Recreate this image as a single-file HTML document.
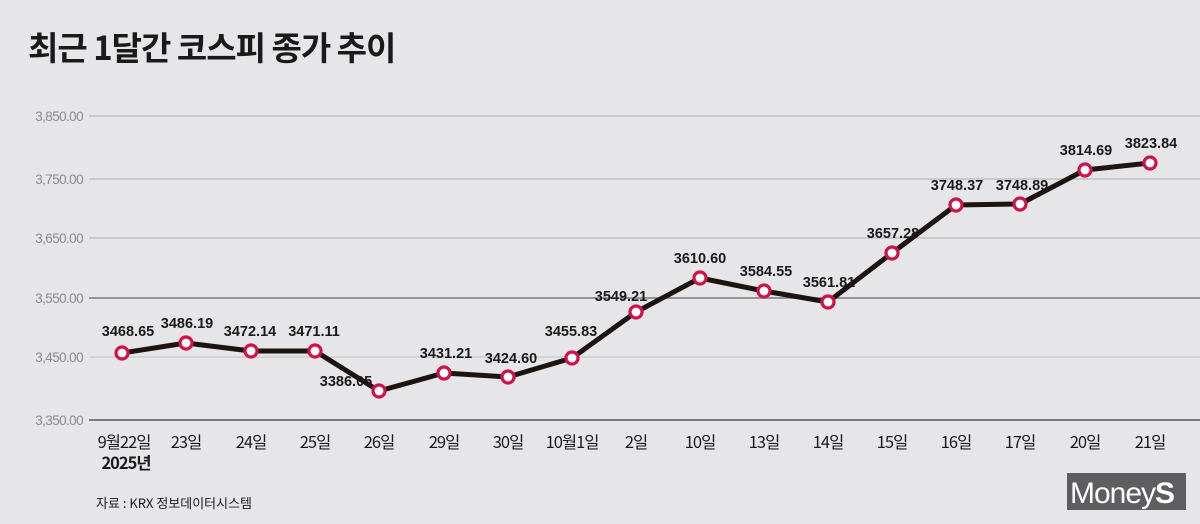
<!DOCTYPE html>
<html><head><meta charset="utf-8"><style>
body{margin:0;width:1200px;height:524px;background:#e6e6e8;overflow:hidden;font-family:"Liberation Sans","Noto Sans CJK KR",sans-serif;}
</style></head><body>
<svg width="1200" height="524" xmlns="http://www.w3.org/2000/svg" style="position:absolute;left:0;top:0">
<text x="28" y="60" font-size="33" font-weight="bold" fill="#1a1a1a" font-family="'Noto Sans CJK KR',sans-serif" letter-spacing="-1">최근 1달간 코스피 종가 추이</text>
<g stroke="#b9b9bb" stroke-width="1.3">
<line x1="89" y1="116" x2="1200" y2="116"/><line x1="89" y1="179" x2="1200" y2="179"/>
<line x1="89" y1="238" x2="1200" y2="238"/><line x1="89" y1="357" x2="1200" y2="357" stroke="#c8c8ca"/>
</g>
<line x1="89" y1="298" x2="1200" y2="298" stroke="#7a7a7c" stroke-width="1.5"/>
<line x1="89" y1="420" x2="1200" y2="420" stroke="#6a6a6c" stroke-width="1.8"/>
<g font-size="13.5" fill="#8a8a8c" text-anchor="end" letter-spacing="-0.6">
<text x="83" y="121">3,850.00</text><text x="83" y="184">3,750.00</text><text x="83" y="243">3,650.00</text>
<text x="83" y="303">3,550.00</text><text x="83" y="362">3,450.00</text><text x="83" y="425">3,350.00</text>
</g>
<polyline fill="none" stroke="#1d1412" stroke-width="5" stroke-linejoin="round" points="122,353 186,343 251,351 315,351 379,391 444,373 508,377 572,358 636,312 700,278 764,291 828,302 892,253 956,205 1020,204 1085,170 1150,163"/>
<g fill="#fff" stroke="#d0124a" stroke-width="3.2">
<circle cx="122" cy="353" r="6"/><circle cx="186" cy="343" r="6"/><circle cx="251" cy="351" r="6"/><circle cx="315" cy="351" r="6"/><circle cx="379" cy="391" r="6"/><circle cx="444" cy="373" r="6"/><circle cx="508" cy="377" r="6"/><circle cx="572" cy="358" r="6"/><circle cx="636" cy="312" r="6"/><circle cx="700" cy="278" r="6"/><circle cx="764" cy="291" r="6"/><circle cx="828" cy="302" r="6"/><circle cx="892" cy="253" r="6"/><circle cx="956" cy="205" r="6"/><circle cx="1020" cy="204" r="6"/><circle cx="1085" cy="170" r="6"/><circle cx="1150" cy="163" r="6"/>
</g>
<g font-size="14.5" font-weight="bold" fill="#1a1a1a" text-anchor="middle">
<text x="128" y="336">3468.65</text><text x="187" y="328">3486.19</text><text x="250" y="336">3472.14</text><text x="314" y="336">3471.11</text>
<text x="346" y="386">3386.05</text><text x="446" y="358">3431.21</text><text x="511" y="363">3424.60</text><text x="571" y="336">3455.83</text>
<text x="621" y="301">3549.21</text><text x="700" y="263">3610.60</text><text x="766" y="276">3584.55</text><text x="829" y="287">3561.81</text>
<text x="893" y="238">3657.28</text><text x="957" y="190">3748.37</text><text x="1022" y="190">3748.89</text><text x="1086" y="155">3814.69</text><text x="1151" y="148">3823.84</text>
</g>
<g font-size="16.5" fill="#1a1a1a" text-anchor="middle" letter-spacing="-1" font-family="'Noto Sans CJK KR',sans-serif">
<text x="124" y="448">9월22일</text><text x="186" y="448">23일</text><text x="251" y="448">24일</text><text x="315" y="448">25일</text>
<text x="379" y="448">26일</text><text x="444" y="448">29일</text><text x="508" y="448">30일</text><text x="572" y="448">10월1일</text>
<text x="636" y="448">2일</text><text x="700" y="448">10일</text><text x="764" y="448">13일</text><text x="828" y="448">14일</text>
<text x="892" y="448">15일</text><text x="956" y="448">16일</text><text x="1020" y="448">17일</text><text x="1085" y="448">20일</text><text x="1150" y="448">21일</text>
<text x="126" y="469" font-weight="bold">2025년</text>
</g>
<text x="96" y="508" font-size="13" fill="#1a1a1a" font-family="'Noto Sans CJK KR',sans-serif">자료 : KRX 정보데이터시스템</text>
<rect x="1067" y="473" width="119" height="37" fill="#5e5e60"/>
<text x="1070" y="503" font-size="30" fill="#fff" letter-spacing="-1">Money<tspan font-weight="bold">S</tspan></text>
</svg>
</body></html>
